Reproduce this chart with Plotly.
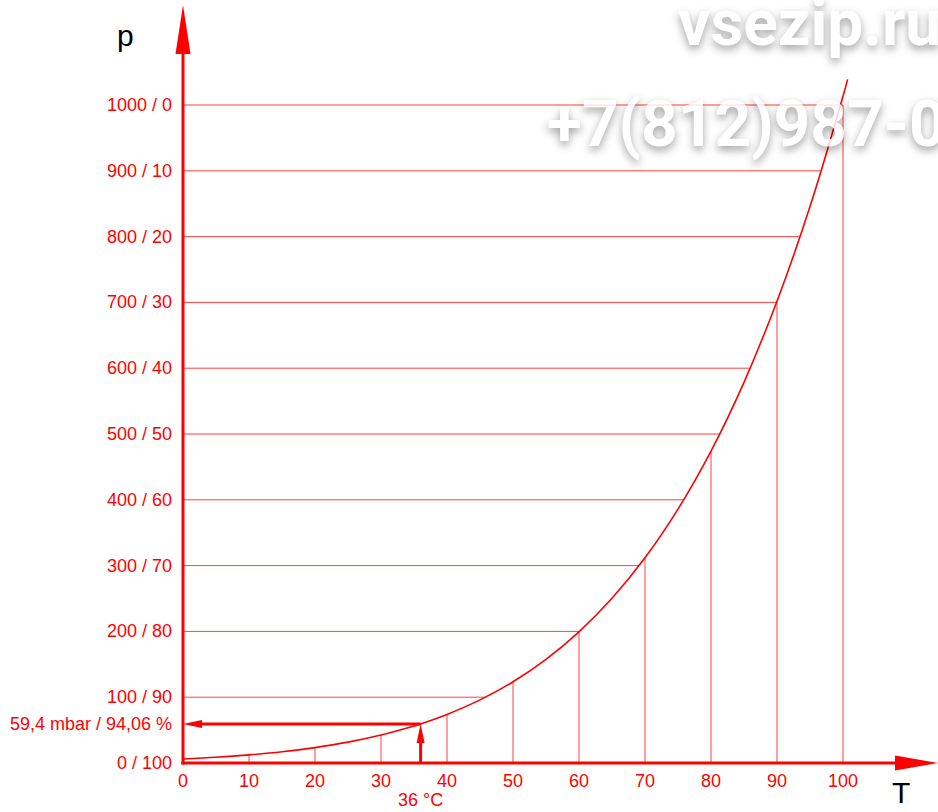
import numpy as np
import plotly.graph_objects as go

# Saturation vapour pressure of water (mbar) vs temperature (°C)
T_CURVE = [0, 5, 10, 15, 20, 25, 30, 35, 36, 40, 45, 50, 55, 60, 65, 70,
           75, 80, 85, 90, 95, 100, 100.7]
P_CURVE = [6.1, 8.7, 12.3, 17.0, 23.4, 31.7, 42.5, 56.3, 59.4, 73.8, 95.9,
           123.4, 157.6, 199.4, 250.3, 311.8, 385.8, 473.9, 578.5, 701.8,
           845.6, 1013.3, 1039.0]

T_TICKS = [0, 10, 20, 30, 40, 50, 60, 70, 80, 90, 100]
P_TICKS = [0, 100, 200, 300, 400, 500, 600, 700, 800, 900, 1000]
P_LABELS = ["0 / 100", "100 / 90", "200 / 80", "300 / 70", "400 / 60",
            "500 / 50", "600 / 40", "700 / 30", "800 / 20", "900 / 10",
            "1000 / 0"]

# Example reading
EX_T = 36
EX_P = 59.4
EX_T_LABEL = "36 °C"
EX_P_LABEL = "59,4 mbar / 94,06 %"

W, H = 938, 812
RED = "#ff0000"
FONT = "Liberation Sans, Arial, sans-serif"

# pixel geometry of the drawing area
X0_PX, X_SCALE = 183, 6.6      # px of T=0, px per °C
Y0_PX, Y_SCALE = 763, 0.658    # px of p=0, px per mbar
x_range = [-X0_PX / X_SCALE, (W - X0_PX) / X_SCALE]
y_range = [-(H - Y0_PX) / Y_SCALE, Y0_PX / Y_SCALE]

fig = go.Figure()

shapes = []
# horizontal grid lines from the p axis to the curve
for p in P_TICKS[1:]:
    x_end = T_TICKS[-1] if p == P_TICKS[-1] else float(np.interp(p, P_CURVE, T_CURVE))
    shapes.append(dict(type="line", x0=0, x1=x_end, y0=p, y1=p,
                       line=dict(color="rgba(255,0,0,0.75)", width=1)))
# vertical grid lines from the T axis to the curve
for t in T_TICKS[1:]:
    y_end = min(float(np.interp(t, T_CURVE, P_CURVE)), P_TICKS[-1])
    shapes.append(dict(type="line", x0=t, x1=t, y0=0, y1=y_end,
                       line=dict(color="rgba(255,0,0,0.75)", width=1)))

# curve
fig.add_trace(go.Scatter(x=T_CURVE, y=P_CURVE, mode="lines",
                         line=dict(color=RED, width=1.6, shape="spline"),
                         hoverinfo="skip", showlegend=False))

# axes with arrows
x_arrow_base = (895 - X0_PX) / X_SCALE
x_arrow_tip = (W - X0_PX) / X_SCALE
y_arrow_base = (Y0_PX - 54) / Y_SCALE
y_arrow_tip = (Y0_PX - 5) / Y_SCALE
shapes.append(dict(type="line", x0=0, x1=0, y0=-2.3, y1=y_arrow_base,
                   line=dict(color=RED, width=3)))
shapes.append(dict(type="line", x0=-0.25, x1=x_arrow_base, y0=0, y1=0,
                   line=dict(color=RED, width=3)))
shapes.append(dict(type="path", xsizemode="pixel", xanchor=0,
                   path=f"M -7.5,{y_arrow_base} L 0,{y_arrow_tip} L 7.5,{y_arrow_base} Z",
                   fillcolor=RED, line=dict(width=0)))
shapes.append(dict(type="path", ysizemode="pixel", yanchor=0,
                   path=f"M {x_arrow_base},7.5 L {x_arrow_tip},0 L {x_arrow_base},-7.5 Z",
                   fillcolor=RED, line=dict(width=0)))

# example reading: up from T to the curve, then left to the p axis
shapes.append(dict(type="line", x0=EX_T, x1=EX_T, y0=0, y1=EX_P - 18 / Y_SCALE,
                   line=dict(color=RED, width=3)))
shapes.append(dict(type="path", xsizemode="pixel", xanchor=EX_T,
                   ysizemode="pixel", yanchor=EX_P,
                   path="M -4,-19 L 0,0 L 4,-19 Z",
                   fillcolor=RED, line=dict(width=0)))
shapes.append(dict(type="line", x0=EX_T, x1=18 / X_SCALE, y0=EX_P, y1=EX_P,
                   line=dict(color=RED, width=3)))
shapes.append(dict(type="path", xsizemode="pixel", xanchor=0,
                   ysizemode="pixel", yanchor=EX_P,
                   path="M 19,4 L 0,0 L 19,-4 Z",
                   fillcolor=RED, line=dict(width=0)))

annotations = []
for p, lab in zip(P_TICKS, P_LABELS):
    annotations.append(dict(x=0, y=p, text=lab, showarrow=False, xanchor="right",
                            yanchor="middle", xshift=-9,
                            font=dict(family=FONT, size=18, color=RED)))
for t in T_TICKS:
    annotations.append(dict(x=t, y=0, text=str(t), showarrow=False, xanchor="center",
                            yanchor="middle", yshift=-18,
                            font=dict(family=FONT, size=18, color=RED)))
annotations.append(dict(x=EX_T, y=0, text=EX_T_LABEL, showarrow=False,
                        xanchor="center", yanchor="middle", yshift=-37,
                        font=dict(family=FONT, size=18, color=RED)))
annotations.append(dict(x=0, y=EX_P, text=EX_P_LABEL, showarrow=False,
                        xanchor="right", yanchor="middle", xshift=-9,
                        font=dict(family=FONT, size=18, color=RED)))
# axis names
annotations.append(dict(xref="paper", yref="paper", x=125 / W, y=1 - 35 / H,
                        text="p", showarrow=False, xanchor="center", yanchor="middle",
                        font=dict(family=FONT, size=30, color="black")))
annotations.append(dict(xref="paper", yref="paper", x=901 / W, y=1 - 792 / H,
                        text="T", showarrow=False, xanchor="center", yanchor="middle",
                        font=dict(family=FONT, size=30, color="black")))
# site watermark
wm_font = dict(family="Roboto, sans-serif", size=64, color="white", weight="bold",
               shadow="0px 4px 8px rgba(0,0,0,0.45)")
annotations.append(dict(xref="paper", yref="paper", x=676 / W, y=1 - 23 / H,
                        text="vsezip.ru", showarrow=False, xanchor="left",
                        yanchor="middle", font=wm_font, opacity=0.82))
annotations.append(dict(xref="paper", yref="paper", x=545 / W, y=1 - 125 / H,
                        text="+7(812)987-0", showarrow=False, xanchor="left",
                        yanchor="middle", font=wm_font, opacity=0.82))

fig.update_layout(
    width=W, height=H,
    margin=dict(l=0, r=0, t=0, b=0),
    paper_bgcolor="white", plot_bgcolor="white",
    xaxis=dict(range=x_range, visible=False, fixedrange=True),
    yaxis=dict(range=y_range, visible=False, fixedrange=True),
    shapes=shapes, annotations=annotations,
    showlegend=False,
)

fig.write_html("out.html")
